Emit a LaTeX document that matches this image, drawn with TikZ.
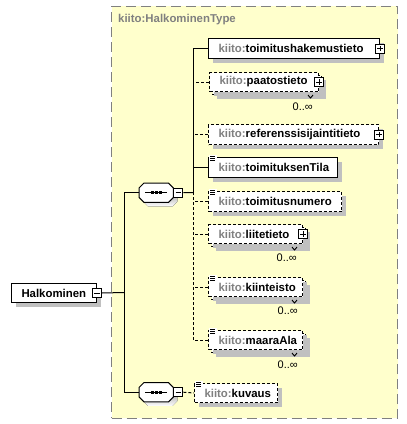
\documentclass[tikz,border=0pt]{standalone}
\usepackage{fontspec}
\setmainfont{Liberation Sans}
\usetikzlibrary{calc,shadows}
\definecolor{kgray}{RGB}{128,128,128}
\definecolor{shade}{RGB}{192,192,192}
\definecolor{ctfill}{RGB}{255,255,204}
\newcommand\kn[1]{{\color{kgray}kiito:}#1}
\newcommand\simplemark[1]{%
  \fill[white] ($(#1.north west)+(1.2,-2.5)$) rectangle ($(#1.north west)+(8.5,4)$);
  \foreach \d in {-1,1,3} \draw[line width=0.9bp] ($(#1.north west)+(2,\d)$) -- ++(5,0);
}
\newcommand\occnotch[1]{%
  \draw[line width=0.9bp] ($(#1.south east)+(-14,0)$) -- ++(2.5,3) -- ++(2.5,-3);
}
\newcommand\seqdraw[1]{%
  \fill[shade] ($(#1.north west)+(9,4)$) -- ($(#1.north east)+(-1,4)$) -- ($(#1.north east)+(4,9)$)
    -- ($(#1.south east)+(4,-1)$) -- ($(#1.south east)+(-1,4)$) -- ($(#1.south west)+(9,4)$)
    -- ($(#1.south west)+(4,-1)$) -- ($(#1.north west)+(4,9)$) -- cycle;
  \draw[fill=white, line width=1bp] ($(#1.north west)+(5,0)$) -- ($(#1.north east)+(-5,0)$) -- ($(#1.north east)+(0,5)$)
    -- ($(#1.south east)+(0,-5)$) -- ($(#1.south east)+(-5,0)$) -- ($(#1.south west)+(5,0)$)
    -- ($(#1.south west)+(0,-5)$) -- ($(#1.north west)+(0,5)$) -- cycle;
  \draw[line width=1bp] ($(#1.west)+(6,0)$) -- ($(#1.east)+(-6,0)$);
  \foreach \dx in {-4,0,4} \fill ($(#1.center)+(\dx-1.5,-1.5)$) rectangle ++(3,3);
}
\begin{document}
\begin{tikzpicture}[x=1bp,y=-1bp,
  font=\fontsize{11.4bp}{13bp}\selectfont\bfseries,
  shd/.style={drop shadow={shadow xshift=4bp,shadow yshift=-4bp,fill=shade,opacity=1}},
  elem/.style={draw, fill=white, line width=1bp, anchor=north west, inner xsep=10bp,
    inner ysep=0pt, align=left, shd},
  opt/.style={dash pattern=on 3bp off 2bp},
  backbox/.style={draw, fill=white, line width=1bp, anchor=north west, inner sep=0pt, opt, shd},
  conn/.style={line width=1bp},
  pmbox/.style={draw, fill=white, line width=0.9bp, minimum size=9bp, inner sep=0pt},
  plusbox/.style={pmbox, path picture={
    \draw[line width=0.9bp] ([xshift=1.8bp]path picture bounding box.west) -- ([xshift=-1.8bp]path picture bounding box.east);
    \draw[line width=0.9bp] ([yshift=-1.8bp]path picture bounding box.north) -- ([yshift=1.8bp]path picture bounding box.south);}},
  minusbox/.style={pmbox, path picture={
    \draw[line width=0.9bp] ([xshift=1.8bp]path picture bounding box.west) -- ([xshift=-1.8bp]path picture bounding box.east);}},
  seqbox/.style={rectangle, minimum width=34bp, minimum height=19bp, inner sep=0pt, anchor=north west},
  occ/.style={font=\fontsize{11bp}{13bp}\selectfont, inner sep=0pt, anchor=base east},
  typebox/.style={draw=kgray, fill=ctfill, line width=1bp, dash pattern=on 10bp off 5bp,
    anchor=north west, inner sep=0pt}
]
\useasboundingbox (0,0) rectangle (407,424);
\fill[white] (0,0) rectangle (407,424);

% complex type container
\node[typebox, minimum width=286bp, minimum height=412bp] (ct) at (111,5.5) {};
\node[anchor=west, inner sep=0pt, text=kgray] (title) at (118,20) {kiito:HalkominenType};

% root element
\node[elem, minimum width=85bp, text width=65bp, minimum height=19bp] (H) at (11,283) {Halkominen};
\node[minusbox] (Hm) at (H.east) {};

% sequences
\node[seqbox] (s1) at (139,183) {};
\seqdraw{s1}
\node[minusbox] (s1m) at ($(s1.east)+(5,0)$) {};
\node[seqbox] (s2) at (139,382.5) {};
\seqdraw{s2}
\node[minusbox] (s2m) at ($(s2.east)+(5,0)$) {};

% elements
\node[elem, minimum width=171bp, text width=151bp, minimum height=20bp] (e1) at (208,38) {\kn{toimitushakemustieto}};
\node[plusbox] (e1p) at (e1.east) {};

\node[backbox, minimum width=109bp, minimum height=19bp] (e2b) at (212,75) {};
\node[elem, opt, minimum width=109bp, text width=89bp, minimum height=19bp, drop shadow={opacity=0}] (e2) at (209,72) {\kn{paatostieto}};
\node[plusbox] (e2p) at (e2.east) {};
\occnotch{e2b}
\node[occ] (e2o) at ($(e2b.south east)+(-9,15)$) {0..∞};

\node[elem, opt, minimum width=170bp, text width=150bp, minimum height=20bp] (e3) at (208,124) {\kn{referenssisijaintitieto}};
\node[plusbox] (e3p) at (e3.east) {};

\node[elem, minimum width=129bp, text width=109bp, minimum height=20bp] (e4) at (208,157) {\kn{toimituksenTila}};
\simplemark{e4}

\node[elem, opt, minimum width=133bp, text width=113bp, minimum height=20bp] (e5) at (208,191) {\kn{toimitusnumero}};
\simplemark{e5}

\node[backbox, minimum width=94bp, minimum height=19bp] (e6b) at (211,227) {};
\node[elem, opt, minimum width=94bp, text width=74bp, minimum height=19bp, drop shadow={opacity=0}] (e6) at (208,224) {\kn{liitetieto}};
\node[plusbox] (e6p) at (e6.east) {};
\occnotch{e6b}
\node[occ] (e6o) at ($(e6b.south east)+(-9,14)$) {0..∞};

\node[backbox, minimum width=94bp, minimum height=19bp] (e7b) at (211,280) {};
\node[elem, opt, minimum width=94bp, text width=74bp, minimum height=19bp, drop shadow={opacity=0}] (e7) at (208,277) {\kn{kiinteisto}};
\simplemark{e7}
\occnotch{e7b}
\node[occ] (e7o) at ($(e7b.south east)+(-8,14)$) {0..∞};

\node[backbox, minimum width=94bp, minimum height=19bp] (e8b) at (211,333) {};
\node[elem, opt, minimum width=94bp, text width=74bp, minimum height=19bp, drop shadow={opacity=0}] (e8) at (208,330) {\kn{maaraAla}};
\simplemark{e8}
\occnotch{e8b}
\node[occ] (e8o) at ($(e8b.south east)+(-8,15)$) {0..∞};

\node[elem, opt, minimum width=83bp, text width=63bp, minimum height=19bp] (e9) at (194,383) {\kn{kuvaus}};
\simplemark{e9}

% connectors
\coordinate (tk) at (193,192.5);
\coordinate (hk) at (124,292.5);
\draw[conn] (Hm.east) -- (hk);
\draw[conn] (s1.west) -| (hk);
\draw[conn] (s2.west) -| (hk);
\draw[conn] (s1m.east) -- (tk);
\draw[conn] (e1.west) -| (tk);
\draw[conn] (e4.west) -- (e4.west -| tk);
\draw[conn,opt] (e2.west) -- (e2.west -| tk);
\draw[conn,opt] (e3.west) -- (e3.west -| tk);
\draw[conn,opt] (e8.west) -| (tk);
\draw[conn,opt] (e5.west) -- (e5.west -| tk);
\draw[conn,opt] (e6.west) -- (e6.west -| tk);
\draw[conn,opt] (e7.west) -- (e7.west -| tk);
\draw[conn,opt] (s2m.east) -- (e9.west);
\end{tikzpicture}
\end{document}
